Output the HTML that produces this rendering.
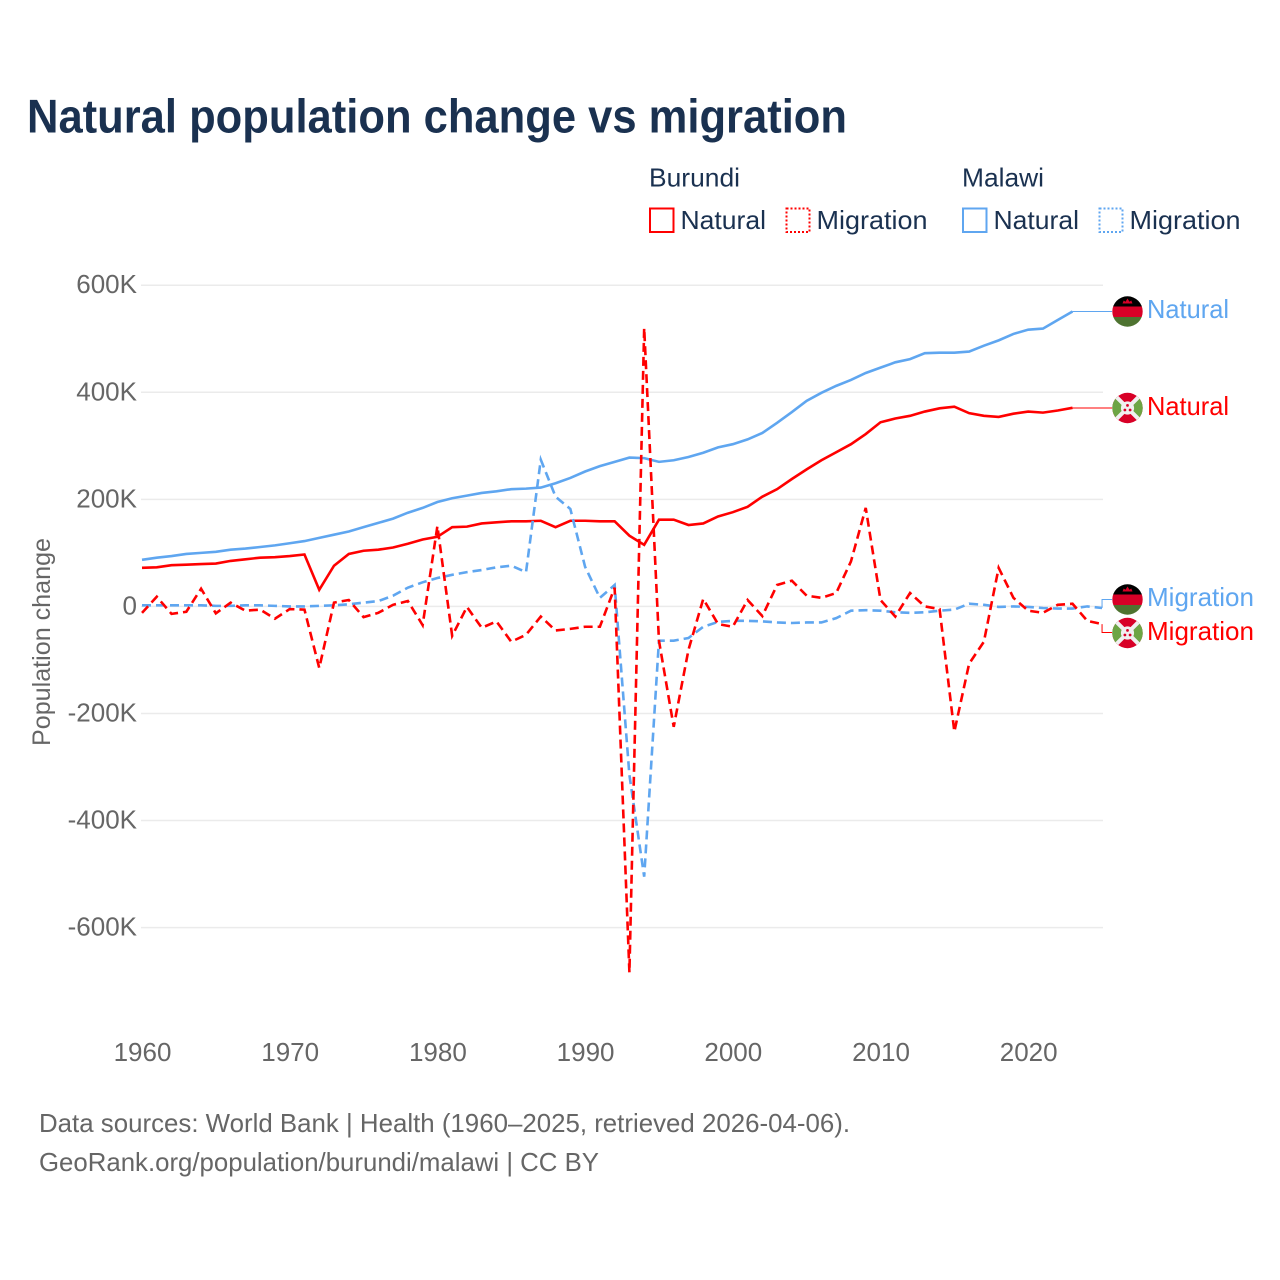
<!DOCTYPE html>
<html lang="en">
<head>
<meta charset="utf-8">
<title>Natural population change vs migration</title>
<style>
html,body{margin:0;padding:0;background:#fff;width:1280px;height:1280px;overflow:hidden}
svg{display:block}
text{font-family:"Liberation Sans",sans-serif}
</style>
</head>
<body>
<svg id="chart" xmlns="http://www.w3.org/2000/svg" width="1280" height="1280" viewBox="0 0 1280 1280">
<rect width="1280" height="1280" fill="#fff"/>
<text x="27" y="132.3" font-size="47" font-weight="700" fill="#1a3150" textLength="820" lengthAdjust="spacingAndGlyphs">Natural population change vs migration</text>

<g font-size="26" fill="#1a3150">
<text x="649" y="186.5" textLength="91" lengthAdjust="spacingAndGlyphs">Burundi</text>
<text x="962" y="186.5" textLength="82" lengthAdjust="spacingAndGlyphs">Malawi</text>
<rect x="650" y="208.5" width="23.5" height="23.5" fill="none" stroke="#ff0000" stroke-width="2"/>
<text x="680.5" y="229" textLength="85.5" lengthAdjust="spacingAndGlyphs">Natural</text>
<rect x="786.5" y="208.5" width="23" height="23.5" fill="none" stroke="#ff0000" stroke-width="2" stroke-dasharray="2,2"/>
<text x="816.5" y="229" textLength="111" lengthAdjust="spacingAndGlyphs">Migration</text>
<rect x="963" y="208.5" width="23.5" height="23.5" fill="none" stroke="#5fa6f0" stroke-width="2"/>
<text x="993.5" y="229" textLength="85.5" lengthAdjust="spacingAndGlyphs">Natural</text>
<rect x="1099.5" y="208.5" width="23" height="23.5" fill="none" stroke="#5fa6f0" stroke-width="2" stroke-dasharray="2,2"/>
<text x="1129.5" y="229" textLength="111" lengthAdjust="spacingAndGlyphs">Migration</text>
</g>

<g id="grid"></g>
<g id="yticks"></g>
<g id="xticks"></g>
<text transform="translate(50,642) rotate(-90)" text-anchor="middle" font-size="25" fill="#666" textLength="208" lengthAdjust="spacingAndGlyphs">Population change</text>
<g id="leaders"></g>
<g id="series"></g>

<defs>
<clipPath id="clip-flag"><circle cx="0" cy="0" r="15.2"/></clipPath>
<g id="flag-malawi" clip-path="url(#clip-flag)">
<rect x="-16" y="-16" width="32" height="11" fill="#000"/>
<rect x="-16" y="-5" width="32" height="10.5" fill="#d80027"/>
<rect x="-16" y="5.5" width="32" height="11" fill="#4e7330"/>
<path d="M-5-8 L5-8 L3.8-11 L2-9.8 L0-13 L-2-9.8 L-3.8-11 Z" fill="#d80027"/>
</g>
<g id="flag-burundi" clip-path="url(#clip-flag)">
<rect x="-16" y="-16" width="32" height="32" fill="#d80027"/>
<path d="M-16-16 L0 0 L-16 16 Z" fill="#6da544"/>
<path d="M16-16 L0 0 L16 16 Z" fill="#6da544"/>
<path d="M-16-16 L16 16 M16-16 L-16 16" stroke="#f0f0f0" stroke-width="4"/>
<circle r="6.6" fill="#f0f0f0"/>
<circle cx="0" cy="-2.6" r="1.4" fill="#d80027"/>
<circle cx="-2.6" cy="2" r="1.4" fill="#d80027"/>
<circle cx="2.6" cy="2" r="1.4" fill="#d80027"/>
</g>
</defs>

<g font-size="26">
<use href="#flag-malawi" transform="translate(1127.5,311.5)"/>
<text x="1147" y="318" fill="#5fa6f0" textLength="82" lengthAdjust="spacingAndGlyphs">Natural</text>
<use href="#flag-burundi" transform="translate(1127.5,408)"/>
<text x="1147" y="415" fill="#ff0000" textLength="82" lengthAdjust="spacingAndGlyphs">Natural</text>
<use href="#flag-malawi" transform="translate(1127.5,599.5)"/>
<text x="1147" y="606" fill="#5fa6f0" textLength="107" lengthAdjust="spacingAndGlyphs">Migration</text>
<use href="#flag-burundi" transform="translate(1127.5,633)"/>
<text x="1147" y="640" fill="#ff0000" textLength="107" lengthAdjust="spacingAndGlyphs">Migration</text>
</g>

<g font-size="26" fill="#666">
<text x="39" y="1132" textLength="811" lengthAdjust="spacingAndGlyphs">Data sources: World Bank | Health (1960–2025, retrieved 2026-04-06).</text>
<text x="39" y="1171" textLength="560" lengthAdjust="spacingAndGlyphs">GeoRank.org/population/burundi/malawi | CC BY</text>
</g>
</svg>
<script>
const startYear = 1960;
const yTickValues = [600, 400, 200, 0, -200, -400, -600];
const yTickLabels = ['600K', '400K', '200K', '0', '-200K', '-400K', '-600K'];
const xTickYears = [1960, 1970, 1980, 1990, 2000, 2010, 2020];

const burundiNatural = [72,73,77,78,79,80,85,88,91,92,94,97,31,76,98,104,106,110,117,125,130,148,149,155,157,159,159,160,148,160,160,159,159,132,115,162,162,152,155,168,176,186,205,219,238,256,273,288,303,322,344,351,356,364,370,373,361,356,354,360,364,362,366,371];
const malawiNatural = [87,91,94,98,100,102,106,108,111,114,118,122,128,134,140,148,156,164,175,184,195,202,207,212,215,219,220,222,230,240,252,262,270,278,277,270,273,279,287,297,303,312,324,343,363,384,399,412,423,436,446,456,462,473,474,474,476,487,497,509,517,519,535,551];
const burundiMigration = [-12,18,-14,-10,33,-13,7,-8,-6,-23,-5,-6,-115,7,12,-20,-12,3,10,-35,150,-55,-1,-40,-28,-66,-53,-19,-45,-42,-38,-38,35,-684,520,-64,-225,-81,14,-33,-38,12,-18,40,48,20,16,25,84,184,12,-19,25,0,-5,-234,-107,-66,72,16,-8,-12,3,5,-27,-33];
const malawiMigration = [2,2,2,2,2,1,1,2,2,1,0,0,1,2,4,7,10,20,35,45,53,59,64,68,73,76,64,274,205,182,74,16,40,-315,-505,-64,-64,-59,-38,-29,-27,-27,-28,-30,-31,-30,-30,-22,-8,-7,-8,-11,-12,-11,-8,-6,5,3,-1,0,-1,-3,-4,-4,0,-3];

const NS = 'http://www.w3.org/2000/svg';
const BLUE = '#5fa6f0';
const RED = '#ff0000';
const xOf = function (year) { return 142 + (year - 1960) * 14.77; };
const yOf = function (v) { return 606.4 - v * 0.5353; };

function make(parent, tag, attrs, text) {
  const el = document.createElementNS(NS, tag);
  Object.keys(attrs).forEach(function (k) { el.setAttribute(k, attrs[k]); });
  if (text !== undefined) el.textContent = text;
  parent.appendChild(el);
  return el;
}

const grid = document.getElementById('grid');
const yticks = document.getElementById('yticks');
yTickValues.forEach(function (v, i) {
  const line = make(grid, 'line', { x1: 141, x2: 1103, y1: yOf(v), y2: yOf(v), stroke: '#ebebeb', 'stroke-width': 1.5 });
  
  
  const label = make(yticks, 'text', { x: 137, y: yOf(v) + 8, 'text-anchor': 'end', 'font-size': 26, fill: '#666' }, yTickLabels[i]);
  
  
});

const xticks = document.getElementById('xticks');
xTickYears.forEach(function (year) {
  const label = make(xticks, 'text', { x: xOf(year) + 0.5, y: 1061, 'text-anchor': 'middle', 'font-size': 26, fill: '#666' }, String(year));
  
  
});

function pointsFor(values) {
  return values.map(function (v, i) { return xOf(startYear + i) + ',' + yOf(v); }).join(' ');
}

const series = document.getElementById('series');
function drawSeries(values, color, dashed, name) {
  const attrs = { points: pointsFor(values), fill: 'none', stroke: color, 'stroke-width': 2.6, 'stroke-linejoin': 'miter' };
  if (dashed) attrs['stroke-dasharray'] = '9,5';
  const line = make(series, 'polyline', attrs);
  
  
}

const leaders = document.getElementById('leaders');
function drawLeader(values, color, flagY, name) {
  const lastX = xOf(startYear + values.length - 1);
  const lastY = yOf(values[values.length - 1]);
  const pts = Math.abs(lastY - flagY) < 1.5
    ? [[lastX, flagY], [1112, flagY]]
    : [[lastX, lastY], [lastX, flagY], [1112, flagY]];
  const line = make(leaders, 'polyline', { points: pts.map(function (p) { return p.join(','); }).join(' '), fill: 'none', stroke: color, 'stroke-width': 1 });
  
  
}

drawLeader(malawiNatural, BLUE, 311.5, 'connector-malawi-natural');
drawLeader(burundiNatural, RED, 408, 'connector-burundi-natural');
drawLeader(malawiMigration, BLUE, 599.5, 'connector-malawi-migration');
drawLeader(burundiMigration, RED, 632.5, 'connector-burundi-migration');

drawSeries(malawiNatural, BLUE, false, 'line-malawi-natural');
drawSeries(burundiNatural, RED, false, 'line-burundi-natural');
drawSeries(malawiMigration, BLUE, true, 'line-malawi-migration');
drawSeries(burundiMigration, RED, true, 'line-burundi-migration');
</script>
</body>
</html>
